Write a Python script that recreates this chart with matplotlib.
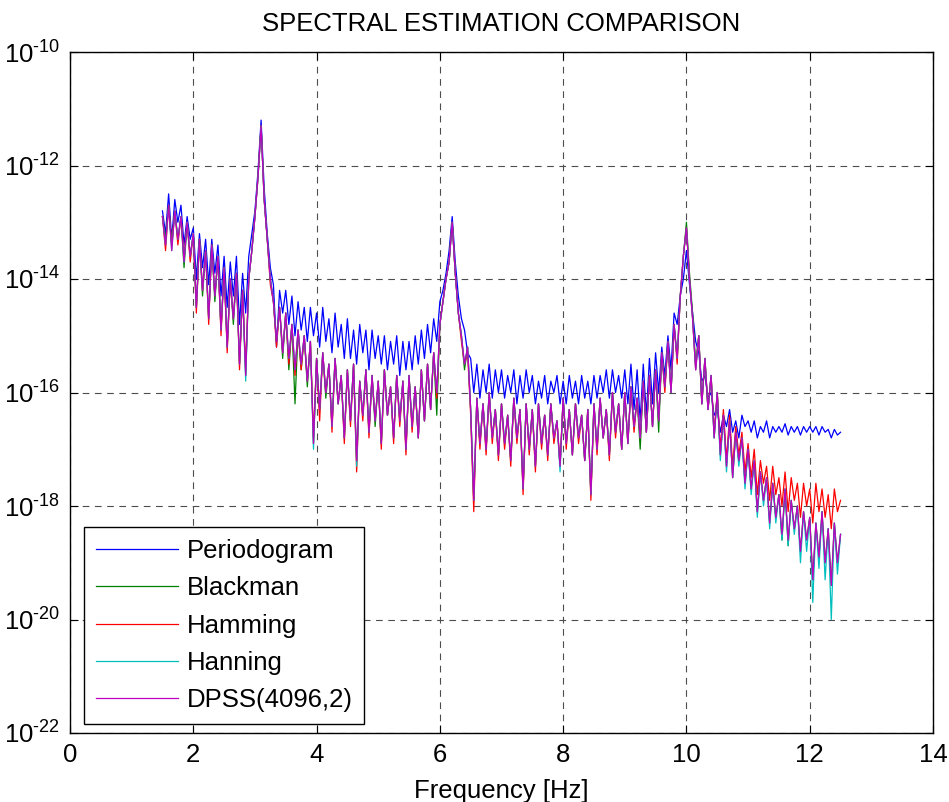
import numpy as np
import matplotlib
matplotlib.use('Agg')
import matplotlib.pyplot as plt
from matplotlib.ticker import NullLocator, FuncFormatter

plt.rcParams['font.family'] = ['Liberation Sans', 'DejaVu Sans']
plt.rcParams['mathtext.fontset'] = 'custom'
plt.rcParams['mathtext.rm'] = 'Liberation Sans'
plt.rcParams['axes.unicode_minus'] = False

# frequency bins (Hz), 0.05 Hz spacing from 1.5 to 12.5
freq = np.linspace(1.5, 12.5, 221)

# values are log10 of the PSD
periodogram = [
    -12.8, -13.2, -12.5, -13.3, -12.6, -13.0, -12.7, -13.4, -12.9, -13.3,
    -13.1, -14.0, -13.2, -13.8, -13.3, -14.1, -13.3, -13.9, -13.4, -14.3,
    -13.6, -14.5, -13.7, -14.3, -13.6, -14.8, -13.9, -14.6, -13.6, -13.2,
    -12.8, -12.1, -11.2, -12.4, -13.2, -13.8, -14.1, -15.2, -14.2, -14.6,
    -14.2, -14.8, -14.3, -15.0, -14.4, -14.9, -14.5, -15.1, -14.5, -15.0,
    -14.6, -15.2, -14.5, -15.1, -14.7, -15.3, -14.6, -15.2, -14.8, -15.4,
    -14.7, -15.4, -14.9, -15.5, -14.8, -15.3, -14.9, -15.6, -14.9, -15.4,
    -15.0, -15.5, -15.0, -15.6, -15.1, -15.5, -15.0, -15.7, -15.1, -15.6,
    -15.1, -15.6, -15.0, -15.5, -14.9, -15.4, -14.8, -15.3, -14.7, -15.1,
    -14.4, -14.2, -13.9, -13.5, -12.9, -13.7, -14.3, -14.7, -14.9, -15.3,
    -15.4, -16.0, -15.5, -16.1, -15.6, -16.0, -15.5, -16.1, -15.6, -16.0,
    -15.6, -16.1, -15.7, -16.0, -15.6, -16.2, -15.7, -16.1, -15.6, -16.0,
    -15.7, -16.2, -15.8, -16.1, -15.7, -16.2, -15.8, -16.0, -15.7, -16.2,
    -15.8, -16.2, -15.7, -16.1, -15.8, -16.2, -15.7, -16.1, -15.8, -16.2,
    -15.7, -16.1, -15.7, -16.0, -15.6, -16.1, -15.6, -16.0, -15.7, -16.1,
    -15.6, -16.2, -15.5, -16.3, -15.6, -16.5, -15.5, -16.4, -15.4, -16.2,
    -15.3, -16.0, -15.2, -15.7, -15.0, -15.6, -14.6, -14.8, -14.3, -14.0,
    -13.5, -14.1, -14.6, -15.1, -15.3, -15.8, -15.7, -16.1, -16.0, -16.4,
    -16.3, -16.7, -16.4, -16.6, -16.3, -16.7, -16.5, -16.8, -16.4, -16.6,
    -16.5, -16.7, -16.5, -16.8, -16.6, -16.7, -16.5, -16.8, -16.6, -16.7,
    -16.6, -16.7, -16.55, -16.75, -16.6, -16.7, -16.6, -16.75, -16.6, -16.7,
    -16.6, -16.7, -16.6, -16.75, -16.6, -16.7, -16.65, -16.8, -16.65, -16.75, -16.7,
]

blackman = [
    -12.9, -13.3, -12.7, -13.4, -12.8, -13.3, -12.9, -13.8, -13.0, -13.6,
    -13.2, -14.5, -13.3, -14.3, -13.5, -14.7, -13.4, -14.4, -13.6, -14.9,
    -13.8, -15.2, -14.0, -14.8, -13.9, -15.5, -14.2, -15.7, -14.0, -13.5,
    -12.9, -12.2, -11.3, -12.6, -13.3, -14.0, -14.4, -15.1, -14.5, -15.4,
    -14.6, -15.6, -14.8, -16.2, -14.9, -15.6, -15.0, -15.9, -15.1, -16.9,
    -15.4, -16.3, -15.3, -16.1, -15.5, -16.6, -15.4, -16.2, -15.7, -16.8,
    -15.6, -16.5, -15.5, -17.2, -15.8, -16.4, -15.6, -16.7, -15.7, -16.6,
    -15.8, -16.9, -15.6, -16.4, -15.9, -16.8, -15.7, -16.5, -15.8, -17.0,
    -15.7, -16.6, -15.9, -16.8, -15.6, -16.5, -15.5, -16.3, -15.3, -16.4,
    -14.8, -14.4, -14.0, -13.7, -13.0, -13.9, -14.6, -15.0, -15.6, -15.2,
    -16.3, -17.9, -16.1, -16.9, -16.2, -17.0, -16.0, -16.8, -16.3, -17.1,
    -16.2, -16.9, -16.4, -17.2, -16.1, -16.8, -16.3, -17.7, -16.2, -17.0,
    -16.3, -17.3, -16.2, -16.9, -16.4, -17.1, -16.2, -16.8, -16.5, -17.3,
    -16.1, -16.9, -16.3, -17.1, -16.2, -16.8, -16.4, -17.2, -16.3, -17.8,
    -16.2, -17.0, -16.1, -16.8, -16.3, -17.1, -16.0, -16.7, -16.2, -17.0,
    -16.0, -16.9, -15.9, -16.6, -16.1, -17.0, -15.8, -16.7, -15.7, -16.6,
    -15.6, -16.7, -15.3, -15.9, -15.1, -16.0, -14.8, -15.4, -14.3, -13.6,
    -13.0, -13.9, -14.6, -15.5, -15.0, -16.2, -15.4, -16.3, -15.7, -16.8,
    -16.0, -17.1, -16.4, -17.3, -16.5, -17.5, -16.7, -17.2, -16.8, -17.6,
    -17.0, -17.7, -17.2, -18.1, -17.4, -17.9, -17.5, -18.3, -17.6, -18.2,
    -17.8, -18.6, -17.7, -18.7, -17.9, -18.4, -18.0, -18.8, -18.1, -18.6,
    -18.2, -19.3, -18.3, -18.9, -18.1, -19.0, -18.4, -19.4, -18.3, -19.0, -18.5,
]

hamming = [
    -12.9, -13.5, -12.7, -13.4, -12.8, -13.4, -12.9, -13.6, -13.0, -13.7,
    -13.2, -14.6, -13.3, -14.2, -13.5, -14.8, -13.4, -14.3, -13.6, -15.0,
    -13.8, -15.3, -14.0, -14.7, -13.9, -15.6, -14.2, -15.6, -14.0, -13.5,
    -12.9, -12.2, -11.3, -12.6, -13.3, -14.1, -14.4, -15.2, -14.5, -15.3,
    -14.6, -15.5, -14.8, -15.7, -14.9, -15.6, -15.0, -15.8, -15.1, -16.8,
    -15.4, -16.5, -15.3, -16.0, -15.5, -16.7, -15.4, -16.2, -15.7, -16.9,
    -15.6, -16.6, -15.5, -17.4, -15.8, -16.5, -15.6, -16.8, -15.7, -16.5,
    -15.8, -17.0, -15.6, -16.4, -15.9, -16.9, -15.7, -16.6, -15.8, -17.1,
    -15.7, -16.7, -15.9, -16.8, -15.6, -16.5, -15.5, -16.3, -15.3, -16.1,
    -14.8, -14.4, -14.0, -13.7, -13.0, -13.9, -14.6, -15.1, -15.5, -15.3,
    -16.4, -18.1, -16.1, -17.0, -16.2, -17.1, -16.0, -16.9, -16.3, -17.2,
    -16.2, -17.0, -16.4, -17.3, -16.1, -16.9, -16.3, -17.8, -16.2, -17.1,
    -16.3, -17.4, -16.2, -17.0, -16.4, -17.2, -16.2, -16.9, -16.5, -17.3,
    -16.1, -17.0, -16.3, -17.1, -16.2, -16.9, -16.4, -17.2, -16.3, -17.9,
    -16.2, -17.1, -16.1, -16.8, -16.3, -17.2, -16.0, -16.8, -16.2, -17.0,
    -16.0, -16.9, -15.9, -16.7, -16.1, -16.8, -15.8, -16.7, -15.7, -16.6,
    -15.6, -16.5, -15.3, -16.0, -15.1, -16.0, -14.8, -15.5, -14.3, -13.6,
    -13.1, -14.0, -14.7, -15.6, -15.0, -16.2, -15.4, -16.3, -15.7, -16.7,
    -16.0, -17.0, -16.3, -17.2, -16.4, -17.3, -16.6, -17.1, -16.7, -17.4,
    -16.9, -17.5, -17.0, -17.8, -17.2, -17.6, -17.3, -17.9, -17.3, -17.8,
    -17.5, -18.0, -17.4, -18.1, -17.5, -17.9, -17.6, -18.2, -17.6, -18.0,
    -17.7, -18.3, -17.6, -18.1, -17.7, -18.2, -17.8, -18.4, -17.7, -18.1, -17.9,
]

hanning = [
    -12.9, -13.4, -12.7, -13.5, -12.8, -13.3, -12.9, -13.7, -13.0, -13.6,
    -13.2, -14.5, -13.3, -14.2, -13.5, -14.7, -13.4, -14.3, -13.6, -14.9,
    -13.8, -15.2, -14.0, -14.7, -13.9, -15.5, -14.2, -15.8, -14.0, -13.5,
    -12.9, -12.2, -11.3, -12.6, -13.3, -14.0, -14.4, -15.1, -14.5, -15.3,
    -14.6, -15.4, -14.8, -15.6, -14.9, -15.5, -15.0, -15.8, -15.1, -17.0,
    -15.4, -16.3, -15.3, -16.0, -15.5, -16.6, -15.4, -16.2, -15.7, -16.8,
    -15.6, -16.5, -15.5, -17.3, -15.8, -16.4, -15.6, -16.7, -15.7, -16.5,
    -15.8, -16.9, -15.6, -16.4, -15.9, -16.8, -15.7, -16.5, -15.8, -17.0,
    -15.7, -16.6, -15.9, -16.8, -15.6, -16.5, -15.5, -16.3, -15.3, -16.0,
    -14.8, -14.4, -14.0, -13.7, -13.0, -13.9, -14.6, -15.0, -15.5, -15.2,
    -16.3, -17.9, -16.1, -16.9, -16.2, -17.0, -16.0, -16.8, -16.3, -17.1,
    -16.2, -16.9, -16.4, -17.2, -16.1, -16.8, -16.3, -17.7, -16.2, -17.0,
    -16.3, -17.3, -16.2, -16.9, -16.4, -17.1, -16.2, -16.8, -16.5, -17.4,
    -16.1, -16.9, -16.3, -17.1, -16.2, -16.8, -16.4, -17.2, -16.3, -17.8,
    -16.2, -17.0, -16.1, -16.8, -16.3, -17.1, -16.0, -16.7, -16.2, -17.0,
    -16.0, -16.9, -15.9, -16.6, -16.1, -16.8, -15.8, -16.7, -15.7, -16.6,
    -15.6, -16.5, -15.3, -15.9, -15.1, -16.0, -14.8, -15.4, -14.3, -13.6,
    -13.1, -14.0, -14.7, -15.6, -15.0, -16.2, -15.4, -16.3, -15.7, -16.8,
    -16.0, -17.2, -16.4, -17.4, -16.5, -17.5, -16.7, -17.3, -16.8, -17.7,
    -17.0, -17.8, -17.2, -18.2, -17.4, -18.0, -17.5, -18.4, -17.6, -18.3,
    -17.8, -18.6, -17.7, -18.7, -17.9, -18.5, -18.0, -19.0, -18.1, -18.8,
    -18.2, -19.7, -18.3, -19.1, -18.1, -19.3, -18.4, -20.0, -18.3, -19.2, -18.5,
]

dpss = [
    -12.9, -13.4, -12.7, -13.5, -12.8, -13.3, -12.9, -13.7, -13.0, -13.6,
    -13.2, -14.5, -13.3, -14.2, -13.5, -14.7, -13.4, -14.3, -13.6, -14.9,
    -13.8, -15.2, -14.0, -14.7, -13.9, -15.5, -14.2, -15.7, -14.0, -13.5,
    -12.9, -12.2, -11.3, -12.6, -13.3, -14.0, -14.4, -15.1, -14.5, -15.3,
    -14.6, -15.4, -14.8, -15.6, -14.9, -15.5, -15.0, -15.8, -15.1, -16.9,
    -15.4, -16.3, -15.3, -16.0, -15.5, -16.6, -15.4, -16.2, -15.7, -16.8,
    -15.6, -16.5, -15.5, -17.2, -15.8, -16.4, -15.6, -16.7, -15.7, -16.5,
    -15.8, -16.9, -15.6, -16.4, -15.9, -16.8, -15.7, -16.5, -15.8, -17.0,
    -15.7, -16.6, -15.9, -16.8, -15.6, -16.5, -15.5, -16.3, -15.3, -16.0,
    -14.8, -14.4, -14.0, -13.7, -13.0, -13.9, -14.6, -15.0, -15.5, -15.2,
    -16.3, -17.9, -16.1, -16.9, -16.2, -17.0, -16.0, -16.8, -16.3, -17.1,
    -16.2, -16.9, -16.4, -17.2, -16.1, -16.8, -16.3, -17.7, -16.2, -17.0,
    -16.3, -17.3, -16.2, -16.9, -16.4, -17.1, -16.2, -16.8, -16.5, -17.3,
    -16.1, -16.9, -16.3, -17.1, -16.2, -16.8, -16.4, -17.2, -16.3, -17.8,
    -16.2, -17.0, -16.1, -16.8, -16.3, -17.1, -16.0, -16.7, -16.2, -17.0,
    -16.0, -16.9, -15.9, -16.6, -16.1, -16.8, -15.8, -16.7, -15.7, -16.6,
    -15.6, -16.5, -15.3, -15.9, -15.1, -16.0, -14.8, -15.4, -14.3, -13.6,
    -13.1, -14.0, -14.7, -15.6, -15.0, -16.2, -15.4, -16.3, -15.7, -16.8,
    -16.0, -17.1, -16.4, -17.3, -16.5, -17.5, -16.7, -17.2, -16.8, -17.6,
    -17.0, -17.7, -17.2, -18.1, -17.4, -17.9, -17.5, -18.3, -17.6, -18.2,
    -17.8, -18.5, -17.7, -18.6, -17.9, -18.4, -18.0, -18.8, -18.1, -18.6,
    -18.2, -19.3, -18.3, -18.9, -18.1, -19.0, -18.4, -19.4, -18.3, -19.0, -18.5,
]

labels = ['Periodogram', 'Blackman', 'Hamming', 'Hanning', 'DPSS(4096,2)']
colors = ['#0000ff', '#008000', '#ff0000', '#00bfbf', '#bf00bf']
series = [periodogram, blackman, hamming, hanning, dpss]

xticks = [0, 2, 4, 6, 8, 10, 12, 14]
yticks = [1e-22, 1e-20, 1e-18, 1e-16, 1e-14, 1e-12, 1e-10]

FS = 18.5

fig = plt.figure(figsize=(9.49, 8.02), dpi=100)
ax = fig.add_axes([70 / 949, 1 - 733 / 802, 863 / 949, 681 / 802])

for vals, lab, col in zip(series, labels, colors):
    ax.semilogy(freq, 10.0 ** np.array(vals), color=col, lw=0.9, label=lab)

ax.set_xlim(0, 14)
ax.set_ylim(1e-22, 1e-10)
ax.set_xticks(xticks)
ax.set_yticks(yticks)
ax.yaxis.set_minor_locator(NullLocator())
ax.yaxis.set_major_formatter(FuncFormatter(
    lambda v, p: r'$\mathregular{10^{\text{-}%d}}$' % abs(int(round(np.log10(v))))))
ax.grid(True, which='major', linestyle=(0, (6, 5)), color='0.3', lw=0.8)
ax.tick_params(direction='in', top=True, right=True, labelsize=FS, length=6,
               width=0.8, pad=7)
for sp in ax.spines.values():
    sp.set_linewidth(1.0)

ax.set_title('SPECTRAL ESTIMATION COMPARISON', fontsize=FS, pad=15)
ax.set_xlabel('Frequency [Hz]', fontsize=FS, labelpad=9)

leg = ax.legend(loc='lower left', bbox_to_anchor=(0.0162, 0.0132),
                borderaxespad=0, fontsize=FS, handlelength=3.2,
                handletextpad=0.35, labelspacing=0.52, borderpad=0.45,
                fancybox=False, framealpha=1, edgecolor='black')
leg.get_frame().set_linewidth(1.0)

fig.savefig('out.png', dpi=100)
